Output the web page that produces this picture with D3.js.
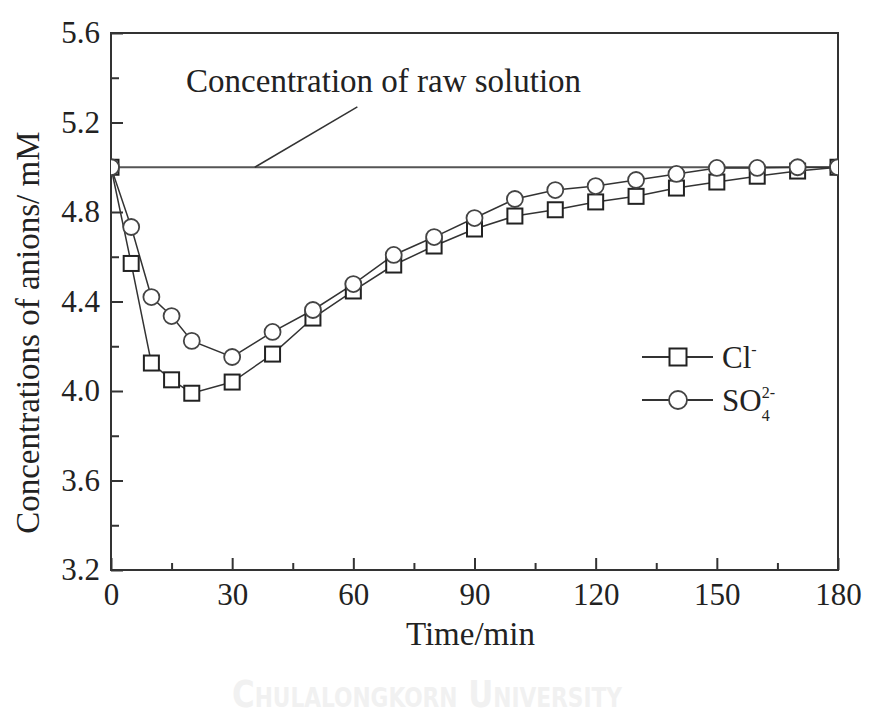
<!DOCTYPE html>
<html>
<head>
<meta charset="utf-8">
<script src="https://cdn.jsdelivr.net/npm/d3@7"></script>
<style>
  body { margin: 0; background: #fff; }
  text { font-family: "Liberation Serif", "Times New Roman", serif; fill: #222; }
</style>
</head>
<body>
<div id="chart"></div>
<script>
// Anion concentrations vs. time
var times = [0, 5, 10, 15, 20, 30, 40, 50, 60, 70, 80, 90, 100, 110, 120, 130, 140, 150, 160, 170, 180];
var clValues = [5.0, 4.57, 4.125, 4.05, 3.99, 4.04, 4.165, 4.326, 4.447, 4.563, 4.648, 4.724, 4.782, 4.81, 4.845, 4.87, 4.907, 4.934, 4.96, 4.983, 5.0];
var so4Values = [5.0, 4.733, 4.42, 4.335, 4.224, 4.152, 4.264, 4.362, 4.478, 4.608, 4.688, 4.773, 4.858, 4.898, 4.916, 4.943, 4.97, 4.997, 4.997, 5.0, 5.0];
var rawConcentration = 5.0;
var xTicks = [0, 30, 60, 90, 120, 150, 180];
var xMinorTicks = [15, 45, 75, 105, 135, 165];
var yTicks = [3.2, 3.6, 4.0, 4.4, 4.8, 5.2, 5.6];
var yMinorTicks = [3.4, 3.8, 4.2, 4.6, 5.0, 5.4];

// Size of the figure
var width = 869,
    height = 715,
    margin = {top: 33, right: 31, bottom: 145, left: 111},
    plotW = width - margin.left - margin.right,
    plotH = height - margin.top - margin.bottom;

var svg = d3.select("#chart")
    .append("svg")
    .attr("width", width)
    .attr("height", height);

var x = d3.scaleLinear().domain([0, 180]).range([0, plotW]);
var y = d3.scaleLinear().domain([3.2, 5.6]).range([plotH, 0]);

var g = svg.append("g")
    .attr("transform", "translate(" + margin.left + "," + margin.top + ")");

g.append("clipPath")
    .attr("id", "plotClip")
    .append("rect")
    .attr("width", plotW)
    .attr("height", plotH);

// Axes with inward ticks, left and bottom only
function styleAxis(sel) {
    sel.select(".domain").remove();
    sel.selectAll("line").attr("stroke", "#333").attr("stroke-width", 2);
    sel.selectAll("text")
        .style("font-family", "Liberation Serif, serif")
        .style("font-size", "31px")
        .attr("fill", "#222");
}

g.append("g")
    .attr("transform", "translate(0," + plotH + ")")
    .call(d3.axisBottom(x).tickValues(xTicks).tickSizeInner(-12).tickSizeOuter(0).tickPadding(13).tickFormat(d3.format("d")))
    .call(styleAxis);
g.append("g")
    .attr("transform", "translate(0," + plotH + ")")
    .call(d3.axisBottom(x).tickValues(xMinorTicks).tickSizeInner(-7).tickSizeOuter(0).tickFormat(""))
    .call(styleAxis);

g.append("g")
    .call(d3.axisLeft(y).tickValues(yTicks).tickSizeInner(-12).tickSizeOuter(0).tickPadding(11).tickFormat(d3.format(".1f")))
    .call(styleAxis);
g.append("g")
    .call(d3.axisLeft(y).tickValues(yMinorTicks).tickSizeInner(-8).tickSizeOuter(0).tickFormat(""))
    .call(styleAxis);

// Frame
g.append("rect")
    .attr("width", plotW)
    .attr("height", plotH)
    .attr("fill", "none")
    .attr("stroke", "#333")
    .attr("stroke-width", 2);

// Raw solution reference line
g.append("line")
    .attr("x1", x(0))
    .attr("x2", x(180))
    .attr("y1", y(rawConcentration))
    .attr("y2", y(rawConcentration))
    .attr("stroke", "#555")
    .attr("stroke-width", 2);

// Annotation
g.append("line")
    .attr("x1", x(35.6))
    .attr("y1", y(rawConcentration))
    .attr("x2", x(61))
    .attr("y2", y(5.27))
    .attr("stroke", "#333")
    .attr("stroke-width", 1.5);
g.append("text")
    .attr("x", x(67.5))
    .attr("y", y(5.3) - 8)
    .attr("text-anchor", "middle")
    .style("font-size", "33px")
    .text("Concentration of raw solution");

// Series
var clData = times.map(function(t, i) { return [t, clValues[i]]; });
var so4Data = times.map(function(t, i) { return [t, so4Values[i]]; });

var line = d3.line()
    .x(function(d) { return x(d[0]); })
    .y(function(d) { return y(d[1]); });

var plot = g.append("g").attr("clip-path", "url(#plotClip)");

[clData, so4Data].forEach(function(data) {
    plot.append("path")
        .datum(data)
        .attr("d", line)
        .attr("fill", "none")
        .attr("stroke", "#333")
        .attr("stroke-width", 1.5);
});

var sq = 15, rad = 8;

plot.selectAll(".sq")
    .data(clData)
    .enter()
    .append("rect")
    .attr("x", function(d) { return x(d[0]) - sq / 2; })
    .attr("y", function(d) { return y(d[1]) - sq / 2; })
    .attr("width", sq)
    .attr("height", sq)
    .attr("fill", "#fff")
    .attr("stroke", "#222")
    .attr("stroke-width", 2);

plot.selectAll(".circ")
    .data(so4Data)
    .enter()
    .append("circle")
    .attr("cx", function(d) { return x(d[0]); })
    .attr("cy", function(d) { return y(d[1]); })
    .attr("r", rad)
    .attr("fill", "#fff")
    .attr("stroke", "#444")
    .attr("stroke-width", 1.8);

// Legend
var legend = g.append("g").attr("transform", "translate(531, 324)");
var legendRows = ["Cl", "SO"];

legendRows.forEach(function(name, i) {
    var row = legend.append("g").attr("transform", "translate(0," + (i * 43) + ")");
    row.append("line")
        .attr("x1", 0).attr("x2", 71)
        .attr("stroke", "#333").attr("stroke-width", 1.8);
    if (i == 0) {
        row.append("rect")
            .attr("x", 36 - 8.5).attr("y", -8.5)
            .attr("width", 17).attr("height", 17)
            .attr("fill", "#fff").attr("stroke", "#222").attr("stroke-width", 2);
    } else {
        row.append("circle")
            .attr("cx", 36).attr("r", 9)
            .attr("fill", "#fff").attr("stroke", "#444").attr("stroke-width", 1.8);
    }
    var t = row.append("text")
        .attr("x", 80)
        .attr("y", 11)
        .style("font-size", "31px")
        .text(name);
    if (i == 0) {
        t.append("tspan").attr("dy", -13).style("font-size", "16px").text("-");
    } else {
        t.append("tspan").attr("dy", 10).style("font-size", "16px").text("4");
        t.append("tspan").attr("dx", -8).attr("dy", -23).style("font-size", "16px").text("2-");
    }
});

// Axis titles
svg.append("text")
    .attr("transform", "translate(39," + (margin.top + plotH * 0.558) + ") rotate(-90)")
    .attr("text-anchor", "middle")
    .style("font-size", "33px")
    .text("Concentrations of anions/ mM");

svg.append("text")
    .attr("x", margin.left + x(89))
    .attr("y", 645)
    .attr("text-anchor", "middle")
    .style("font-size", "33px")
    .text("Time/min");

// Faint watermark at the bottom, one text in small caps
svg.append("text")
    .attr("x", 232)
    .attr("y", 707)
    .attr("textLength", 390)
    .attr("lengthAdjust", "spacingAndGlyphs")
    .style("font-family", "DejaVu Sans Condensed, DejaVu Sans, sans-serif")
    .style("font-weight", "bold")
    .style("font-variant", "small-caps")
    .style("font-size", "37px")
    .style("fill", "#f1f1f1")
    .text("Chulalongkorn University");
</script>
</body>
</html>
